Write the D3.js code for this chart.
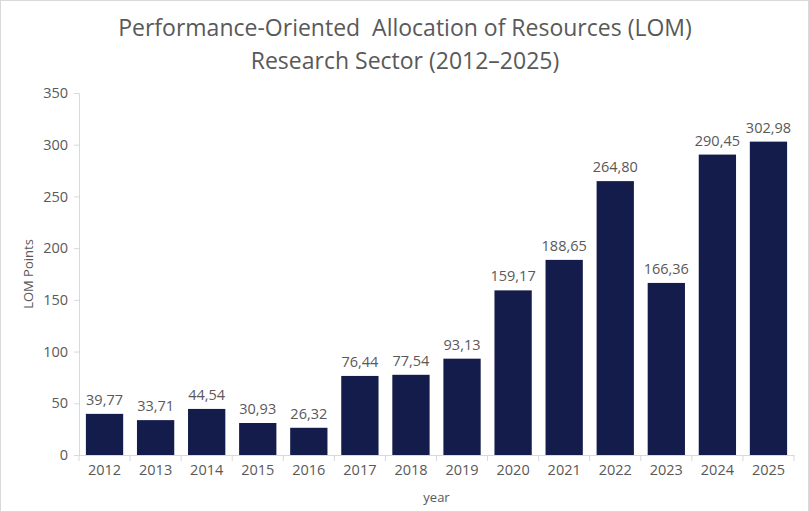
<!DOCTYPE html>
<html>
<head>
<meta charset="utf-8">
<script src="https://cdn.jsdelivr.net/npm/d3@7"></script>
<style>
  body { margin: 0; background: #fff; }
  text { font-family: "Open Sans", sans-serif; fill: #595959; }
</style>
</head>
<body>
<div id="chart"></div>
<script>
// Data
const years = ["2012", "2013", "2014", "2015", "2016", "2017", "2018", "2019", "2020", "2021", "2022", "2023", "2024", "2025"];
const lomPoints = [39.77, 33.71, 44.54, 30.93, 26.32, 76.44, 77.54, 93.13, 159.17, 188.65, 264.80, 166.36, 290.45, 302.98];
const yTicks = [0, 50, 100, 150, 200, 250, 300, 350];
const titleLines = ["Performance-Oriented  Allocation of Resources (LOM)", "Research Sector (2012\u20132025)"];

const data = years.map((y, i) => ({ year: y, value: lomPoints[i] }));

const width = 809, height = 512;
const margin = { top: 93, right: 15, bottom: 57, left: 79 };
const innerW = width - margin.left - margin.right;
const innerH = height - margin.top - margin.bottom;

const svg = d3.select("#chart").append("svg")
    .attr("width", width)
    .attr("height", height);

// outer frame
svg.append("rect")
    .attr("x", 0.5).attr("y", 0.5)
    .attr("width", width - 1).attr("height", height - 1)
    .attr("fill", "none")
    .attr("stroke", "#d9d9d9");

const g = svg.append("g")
    .attr("transform", `translate(${margin.left}, ${margin.top})`);

const x = d3.scaleBand()
    .domain(years)
    .range([0, innerW])
    .paddingInner(0.27)
    .paddingOuter(0.135);

const y = d3.scaleLinear()
    .domain([0, 350])
    .range([innerH, 0]);

// y axis
const yAxis = g.append("g")
    .call(d3.axisLeft(y).tickValues(yTicks).tickSize(5).tickPadding(6));
yAxis.selectAll("text").style("font-size", "14.5px");

// x axis, ticks between categories
const xAxis = g.append("g")
    .attr("transform", `translate(0, ${innerH})`)
    .call(d3.axisBottom(x).tickSize(0).tickPadding(10));
xAxis.selectAll("text").style("font-size", "14.5px");
xAxis.selectAll(".tick")
    .append("line")
    .attr("x1", -x.step() / 2).attr("x2", -x.step() / 2)
    .attr("y1", 0).attr("y2", 6)
    .attr("stroke", "#d9d9d9");
xAxis.append("line")
    .attr("x1", innerW).attr("x2", innerW)
    .attr("y1", 0).attr("y2", 6)
    .attr("stroke", "#d9d9d9");

svg.selectAll(".domain, .tick line").attr("stroke", "#d9d9d9");

// bars
g.selectAll(".bar")
    .data(data)
    .enter().append("rect")
    .attr("class", "bar")
    .attr("x", d => x(d.year))
    .attr("y", d => y(d.value))
    .attr("width", x.bandwidth())
    .attr("height", d => innerH - y(d.value))
    .attr("fill", "#131c4b");

// value labels
const fmt = v => v.toFixed(2).replace(".", ",");
g.selectAll(".label")
    .data(data)
    .enter().append("text")
    .attr("class", "label")
    .attr("x", d => x(d.year) + x.bandwidth() / 2)
    .attr("y", d => y(d.value) - 9)
    .attr("text-anchor", "middle")
    .style("font-size", "14.5px")
    .text(d => fmt(d.value));

// axis titles
svg.append("text")
    .attr("x", margin.left + innerW / 2)
    .attr("y", 502)
    .attr("text-anchor", "middle")
    .style("font-size", "13px")
    .text("year");

svg.append("text")
    .attr("transform", `translate(33, ${margin.top + innerH / 2}) rotate(-90)`)
    .attr("text-anchor", "middle")
    .style("font-size", "13px")
    .text("LOM Points");

// title
svg.selectAll(".title")
    .data(titleLines)
    .enter().append("text")
    .attr("class", "title")
    .attr("x", 405)
    .attr("y", (d, i) => 36 + i * 33)
    .attr("text-anchor", "middle")
    .style("font-size", "23px")
    .style("white-space", "pre")
    .text(d => d);
</script>
</body>
</html>
